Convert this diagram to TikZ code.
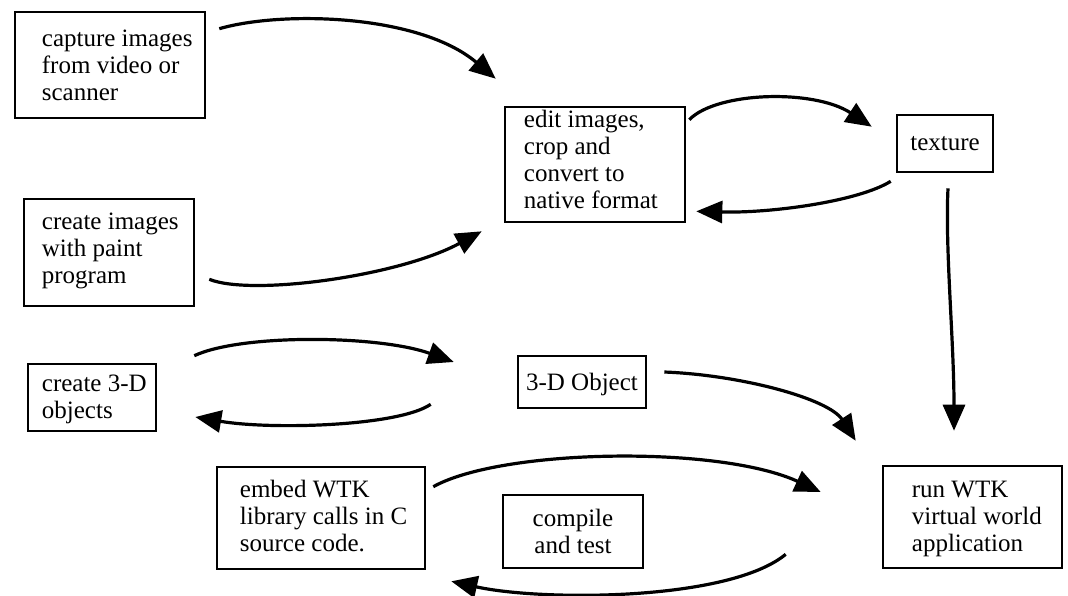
\documentclass[tikz,border=0pt]{standalone}
\usepackage{fontspec}
\setmainfont{Liberation Serif}
\usetikzlibrary{arrows.meta}
\begin{document}
\begin{tikzpicture}[x=1pt,y=-1pt,
  box/.style={draw,line width=2.6pt,inner sep=0pt,align=center,
    font=\fontsize{25}{27}\selectfont},
  txt/.style={inner sep=0pt,align=left,anchor=north west,
    font=\fontsize{25}{27}\selectfont},
  flow/.style={line width=3.2pt,-{Triangle[length=26pt,width=22pt]}}]
\useasboundingbox (0,0) rectangle (1068,595);
% boxes
\node[box,minimum width=190pt,minimum height=106pt] (cap) at (110,65) {};
\node[txt] (captxt) at ([shift={(28,19)}]cap.north west) {capture images\\from video or\\scanner};
\node[box,minimum width=180pt,minimum height=115pt] (edit) at (595,164.5) {};
\node[txt] (edittxt) at ([shift={(20,4)}]edit.north west) {edit images,\\crop and\\convert to\\native format};
\node[box,minimum width=96pt,minimum height=57pt] (tex) at (945,143.5) {texture};
\node[box,minimum width=170pt,minimum height=107pt] (crimg) at (109,252.5) {};
\node[txt] (crimgtxt) at ([shift={(19,15)}]crimg.north west) {create images\\with paint\\program};
\node[box,minimum width=128pt,minimum height=67pt] (cr3d) at (92,397.5) {};
\node[txt] (cr3dtxt) at ([shift={(15,12)}]cr3d.north west) {create 3-D\\objects};
\node[box,minimum width=128pt,minimum height=52pt,text depth=0pt] (obj) at (582,382) {3-D Object};
\node[box,minimum width=208pt,minimum height=102pt] (embed) at (321,518) {};
\node[txt] (embedtxt) at ([shift={(24,14)}]embed.north west) {embed WTK\\library calls in C\\source code.};
\node[box,minimum width=140pt,minimum height=73pt] (comp) at (573,531.5) {compile\\and test};
\node[box,minimum width=179pt,minimum height=102pt] (run) at (972.5,517) {};
\node[txt] (runtxt) at ([shift={(30,16)}]run.north west) {run WTK\\virtual world\\application};
% connectors
\draw[flow] ([shift={(13,18)}]cap.north east) .. controls +(62,-18) and +(-77,-65) .. ([shift={(-8,-27)}]edit.north west);
\draw[flow] ([shift={(14,-28)}]crimg.south east) .. controls +(42,17) and +(-83,45) .. ([shift={(-22,8)}]edit.south west);
\draw[flow] ([shift={(3,14)}]edit.north east) .. controls +(27,-28) and +(-58,-38) .. ([shift={(-24,13)}]tex.north west);
\draw[flow] ([shift={(-5,8)}]tex.south west) .. controls +(-32,20) and +(75,2) .. ([shift={(10,-12)}]edit.south east);
\draw[flow] ([shift={(3,15)}]tex.south) .. controls +(-3,60) and +(0,-90) .. ([shift={(-18.5,-34)}]run.north);
\draw[flow] ([shift={(37,-7)}]cr3d.north east) .. controls +(47,-22) and +(-75,-27) .. ([shift={(-63,-20)}]obj.west);
\draw[flow] ([shift={(-86,-5)}]obj.south west) .. controls +(-32,22) and +(76,13) .. ([shift={(38,19.5)}]cr3d.east);
\draw[flow] ([shift={(17,-10)}]obj.east) .. controls +(77,3) and +(-27,-42) .. ([shift={(-26,-24)}]run.north west);
\draw[flow] ([shift={(7,21)}]embed.north east) .. controls +(68,-38) and +(-102,-47) .. ([shift={(-61,-25)}]run.west);
\draw[flow] ([shift={(-96,-15)}]run.south west) .. controls +(-57,47) and +(90,20) .. ([shift={(25,11)}]embed.south east);
\end{tikzpicture}
\end{document}
